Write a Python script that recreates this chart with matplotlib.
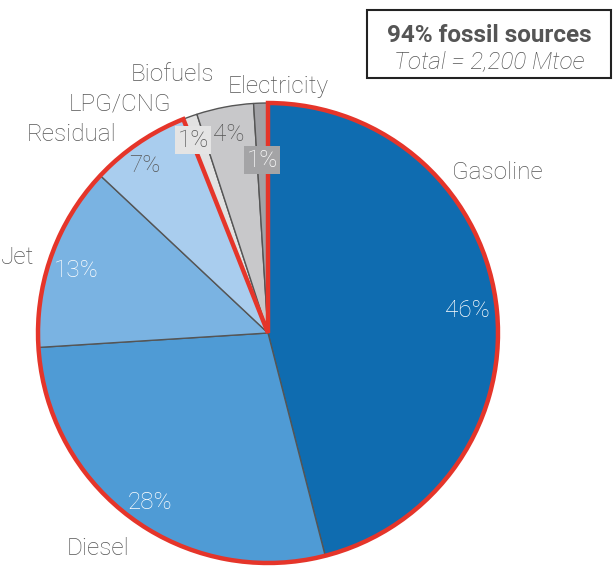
import numpy as np
import matplotlib.pyplot as plt
from matplotlib.patches import Wedge, Rectangle

# Transport energy by fuel (share of total, %)
fuels = ['Gasoline', 'Diesel', 'Jet', 'Residual', 'LPG/CNG', 'Biofuels', 'Electricity']
shares = [46, 28, 13, 7, 1, 4, 1]
pct_labels = ['46%', '28%', '13%', '7%', '1%', '4%', '1%']
colors = ['#0f6cb0', '#4f9bd5', '#7ab3e2', '#a9cdee', '#e2e2e2', '#c8c8ca', '#a2a2a6']
fossil_share = 94

plt.rcParams['font.family'] = ['Roboto', 'DejaVu Sans']

fig = plt.figure(figsize=(6.14, 5.68), dpi=100)
W, H = 614, 568
cx, cy, R = 268, 333, 230
ax = fig.add_axes([(cx - R) / W, (H - cy - R) / H, 2 * R / W, 2 * R / H])

wedges, _ = ax.pie(shares, colors=colors, startangle=90, counterclock=False,
                   wedgeprops=dict(edgecolor='#555555', linewidth=1))
ax.set_xlim(-1, 1)
ax.set_ylim(-1, 1)
ax.set_aspect('equal')
ax.axis('off')

# red outline around the fossil part
t1 = 90 - fossil_share / 100 * 360 + 360
ax.add_patch(Wedge((0, 0), 1, t1, 450, fill=False, edgecolor='#e5352a',
                   linewidth=3.2, zorder=5, clip_on=False))

# label positions (in radius units)
name_pos = [(0.996, 0.696), (-0.739, -0.935), (-1.087, 0.330), (-0.852, 0.861),
            (-0.643, 0.996), (-0.417, 1.122), (0.043, 1.070)]
pct_pos = [(0.865, 0.096), (-0.513, -0.739), (-0.835, 0.270), (-0.535, 0.730),
           (-0.326, 0.839), (-0.170, 0.861), (-0.026, 0.752)]
pct_colors = ['white', 'white', 'white', '#555555', '#555555', '#555555', 'white']
pct_boxes = [None, None, None, None,
             dict(facecolor='#e4e4e4', edgecolor='none', pad=2),
             None,
             dict(facecolor='#a4a4a6', edgecolor='none', pad=2)]

for name, (x, y) in zip(fuels, name_pos):
    ax.text(x, y, name, ha='center', va='center', fontsize=17.5, color='#555555',
            fontweight='light', clip_on=False)
for lab, (x, y), c, b in zip(pct_labels, pct_pos, pct_colors, pct_boxes):
    ax.text(x, y, lab, ha='center', va='center', fontsize=17.5, color=c,
            fontweight='light', bbox=b, zorder=6, clip_on=False)

# summary box
fig.patches.append(Rectangle((367 / W, 1 - 78 / H), (611 - 367) / W, 68 / H,
                             transform=fig.transFigure, fill=False,
                             edgecolor='#222222', linewidth=1.5))
fig.text(489 / W, 1 - 35 / H, '%d%% fossil sources' % fossil_share, ha='center',
         va='center', fontsize=17.5, fontweight='bold', color='#555555')
fig.text(489 / W, 1 - 62 / H, 'Total = 2,200 Mtoe', ha='center', va='center',
         fontsize=17.5, style='italic', fontweight='light', color='#555555')

fig.savefig('out.png', dpi=100)
